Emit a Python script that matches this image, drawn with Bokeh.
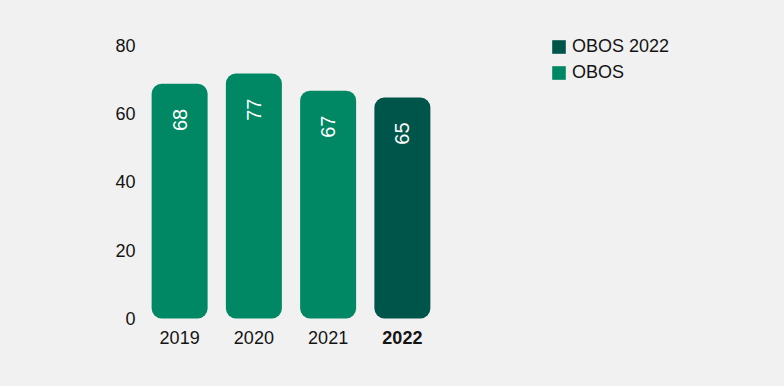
import math
from bokeh.plotting import figure
from bokeh.models import ColumnDataSource, FactorRange, Range1d, Legend, LegendItem, FixedTicker
from bokeh.embed import file_html
from bokeh.resources import INLINE
from bokeh.core.properties import value

years = ["2019", "2020", "2021", "2022"]
bar_heights = [68.7, 71.7, 66.7, 64.7]
bar_labels = ["68", "77", "67", "65"]
year_styles = ["normal", "normal", "normal", "bold"]
series_obos = ["2019", "2020", "2021"]
series_2022 = ["2022"]
y_ticks = [0, 20, 40, 60, 80]

GREEN = "#008763"
DARK = "#00554a"
BG = "#f1f1f1"
FONT = "Liberation Sans"
TXT = "#141414"

p = figure(x_range=FactorRange(*years), y_range=Range1d(-9.37, 84.3),
           frame_width=297, frame_height=320, output_backend="svg",
           toolbar_location=None,
           min_border_left=142, min_border_right=0, min_border_top=30,
           min_border_bottom=28)
p.background_fill_color = BG
p.border_fill_color = BG
p.outline_line_color = None
p.grid.visible = False
p.xaxis.visible = False

ya = p.yaxis[0]
ya.ticker = FixedTicker(ticks=y_ticks)
ya.axis_line_color = None
ya.major_tick_line_color = None
ya.minor_tick_line_color = None
ya.major_label_text_font = FONT
ya.major_label_text_font_size = "18px"
ya.major_label_text_color = TXT
ya.major_label_standoff = 1

idx = {y: i for i, y in enumerate(years)}
src_obos = ColumnDataSource(dict(x=series_obos, top=[bar_heights[idx[y]] for y in series_obos]))
src_2022 = ColumnDataSource(dict(x=series_2022, top=[bar_heights[idx[y]] for y in series_2022]))

r1 = p.vbar(x="x", top="top", bottom=0, width=0.754, source=src_obos,
            fill_color=GREEN, line_color=None, border_radius=10)
r2 = p.vbar(x="x", top="top", bottom=0, width=0.754, source=src_2022,
            fill_color=DARK, line_color=None, border_radius=10)

lab_src = ColumnDataSource(dict(x=years, y=bar_heights, t=bar_labels))
p.text(x="x", y="y", text="t", source=lab_src, angle=math.pi / 2,
       text_align="right", text_baseline="middle", y_offset=25,
       text_color="white", text_font=value(FONT), text_font_size="20px")

yr_src = ColumnDataSource(dict(x=years, y=[0] * len(years), t=years, s=year_styles))
p.text(x="x", y="y", text="t", source=yr_src, text_align="center",
       text_baseline="middle", y_offset=19, text_color=TXT,
       text_font=value(FONT), text_font_size="18px", text_font_style="s")

legend = Legend(items=[LegendItem(label="OBOS 2022", renderers=[r2]),
                       LegendItem(label="OBOS", renderers=[r1])],
                location=(111, 267), padding=0, margin=0, spacing=5,
                glyph_width=17, glyph_height=17, label_height=17,
                label_standoff=5, border_line_color=None,
                background_fill_alpha=0,
                label_text_font=FONT, label_text_font_size="18px",
                label_text_color=TXT)
p.add_layout(legend, "right")

html = file_html(p, INLINE)
html = html.replace("<head>", "<head><style>html,body{background:%s;}</style>" % BG, 1)
open("out.html", "w").write(html)
